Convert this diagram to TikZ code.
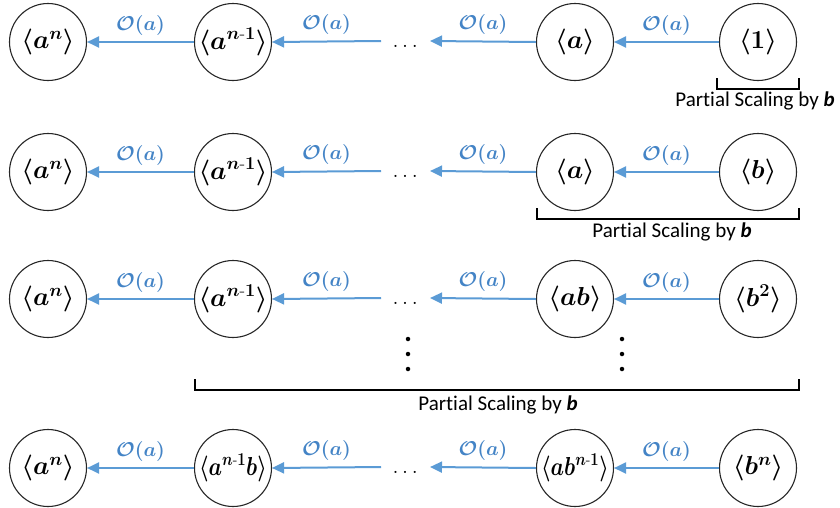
\RequirePackage{fix-cm}
\documentclass[tikz,border=0pt]{standalone}
\usepackage{amsmath,graphicx}
\usepackage{fontspec}
\newfontfamily\calib[Ligatures=NoCommon]{Carlito}
\usetikzlibrary{arrows.meta}
\definecolor{arrowblue}{RGB}{91,155,213}
\definecolor{labelblue}{RGB}{68,132,198}
\tikzset{
  statenode/.style={circle, draw=black!85, line width=1.1pt, minimum size=77pt, inner sep=0pt, fill=white, font=\fontsize{26}{30}\selectfont\boldmath},
  costarrow/.style={draw=arrowblue, line width=2pt, -{Triangle[length=12pt,width=11pt]}},
  costlabel/.style={text=labelblue, font=\fontsize{20}{22}\selectfont\boldmath, inner sep=0pt},
  bracketline/.style={line width=1.6pt, draw=black},
  scalelabel/.style={font=\calib\fontsize{21}{24}\selectfont, inner sep=0pt},
  hdotsnode/.style={font=\fontsize{22}{24}\selectfont, inner sep=0pt},
  vdotnode/.style={circle, fill=black, inner sep=0pt, minimum size=4.5pt}
}
\begin{document}
\begin{tikzpicture}[x=1pt,y=-1pt]
\useasboundingbox (0,0) rectangle (840,507);
% ---------- row 1
\node[statenode] (r1a) at (48,42) {$\langle a^n\rangle$};
\node[statenode] (r1b) at (233,42) {$\langle a^{n\text{-}1}\rangle$};
\node[statenode] (r1c) at (575,42) {$\langle a\rangle$};
\node[statenode] (r1d) at (758,42) {$\langle 1\rangle$};
\node[hdotsnode] (r1dots) at (407,46) {$\dots$};
\coordinate (r1gl) at (381,41);
\coordinate (r1gr) at (430,41);
\draw[costarrow] (r1b.west) -- (r1a.east) node[costlabel, midway, above=6pt] {$\mathcal{O}(a)$};
\draw[costarrow] (r1gl) -- (r1b.east) node[costlabel, midway, above=6pt] {$\mathcal{O}(a)$};
\draw[costarrow] (r1c.west) -- (r1gr) node[costlabel, midway, above=6pt] {$\mathcal{O}(a)$};
\draw[costarrow] (r1d.west) -- (r1c.east) node[costlabel, midway, above=6pt] {$\mathcal{O}(a)$};
\coordinate (b1l) at (717,89);
\coordinate (b1r) at (799,89);
\draw[bracketline] ([yshift=11pt]b1l) -- (b1l) -- (b1r) -- ([yshift=11pt]b1r);
\node[scalelabel] (p1) at (755,101) {Partial Scaling by \textbf{\textit{b}}};
% ---------- row 2
\node[statenode] (r2a) at (48,172) {$\langle a^n\rangle$};
\node[statenode] (r2b) at (233,172) {$\langle a^{n\text{-}1}\rangle$};
\node[statenode] (r2c) at (575,172) {$\langle a\rangle$};
\node[statenode] (r2d) at (758,172) {$\langle b\rangle$};
\node[hdotsnode] (r2dots) at (407,176) {$\dots$};
\coordinate (r2gl) at (381,171);
\coordinate (r2gr) at (430,171);
\draw[costarrow] (r2b.west) -- (r2a.east) node[costlabel, midway, above=6pt] {$\mathcal{O}(a)$};
\draw[costarrow] (r2gl) -- (r2b.east) node[costlabel, midway, above=6pt] {$\mathcal{O}(a)$};
\draw[costarrow] (r2c.west) -- (r2gr) node[costlabel, midway, above=6pt] {$\mathcal{O}(a)$};
\draw[costarrow] (r2d.west) -- (r2c.east) node[costlabel, midway, above=6pt] {$\mathcal{O}(a)$};
\coordinate (b2l) at (537,219);
\coordinate (b2r) at (799,219);
\draw[bracketline] ([yshift=11pt]b2l) -- (b2l) -- (b2r) -- ([yshift=11pt]b2r);
\node[scalelabel] (p2) at (672,232) {Partial Scaling by \textbf{\textit{b}}};
% ---------- row 3
\node[statenode] (r3a) at (48,299) {$\langle a^n\rangle$};
\node[statenode] (r3b) at (233,299) {$\langle a^{n\text{-}1}\rangle$};
\node[statenode] (r3c) at (575,299) {$\langle ab\rangle$};
\node[statenode] (r3d) at (758,299) {$\langle b^2\rangle$};
\node[hdotsnode] (r3dots) at (407,303) {$\dots$};
\coordinate (r3gl) at (381,298);
\coordinate (r3gr) at (430,298);
\draw[costarrow] (r3b.west) -- (r3a.east) node[costlabel, midway, above=6pt] {$\mathcal{O}(a)$};
\draw[costarrow] (r3gl) -- (r3b.east) node[costlabel, midway, above=6pt] {$\mathcal{O}(a)$};
\draw[costarrow] (r3c.west) -- (r3gr) node[costlabel, midway, above=6pt] {$\mathcal{O}(a)$};
\draw[costarrow] (r3d.west) -- (r3c.east) node[costlabel, midway, above=6pt] {$\mathcal{O}(a)$};
% vertical dots
\node[vdotnode] (v1a) at (408,339) {};
\node[vdotnode] (v1b) at (408,354) {};
\node[vdotnode] (v1c) at (408,369) {};
\node[vdotnode] (v2a) at (622,339) {};
\node[vdotnode] (v2b) at (622,354) {};
\node[vdotnode] (v2c) at (622,369) {};
\coordinate (b3l) at (195,390);
\coordinate (b3r) at (799,390);
\draw[bracketline] ([yshift=11pt]b3l) -- (b3l) -- (b3r) -- ([yshift=11pt]b3r);
\node[scalelabel] (p3) at (498,405) {Partial Scaling by \textbf{\textit{b}}};
% ---------- row 4
\node[statenode] (r4a) at (48,468) {$\langle a^n\rangle$};
\node[statenode] (r4b) at (233,468) {\scalebox{0.82}[1]{$\langle a^{n\text{-}1}b\rangle$}};
\node[statenode] (r4c) at (575,468) {\scalebox{0.82}[1]{$\langle ab^{n\text{-}1}\rangle$}};
\node[statenode] (r4d) at (758,468) {$\langle b^n\rangle$};
\node[hdotsnode] (r4dots) at (407,472) {$\dots$};
\coordinate (r4gl) at (381,467);
\coordinate (r4gr) at (430,467);
\draw[costarrow] (r4b.west) -- (r4a.east) node[costlabel, midway, above=6pt] {$\mathcal{O}(a)$};
\draw[costarrow] (r4gl) -- (r4b.east) node[costlabel, midway, above=6pt] {$\mathcal{O}(a)$};
\draw[costarrow] (r4c.west) -- (r4gr) node[costlabel, midway, above=6pt] {$\mathcal{O}(a)$};
\draw[costarrow] (r4d.west) -- (r4c.east) node[costlabel, midway, above=6pt] {$\mathcal{O}(a)$};
\end{tikzpicture}
\end{document}
